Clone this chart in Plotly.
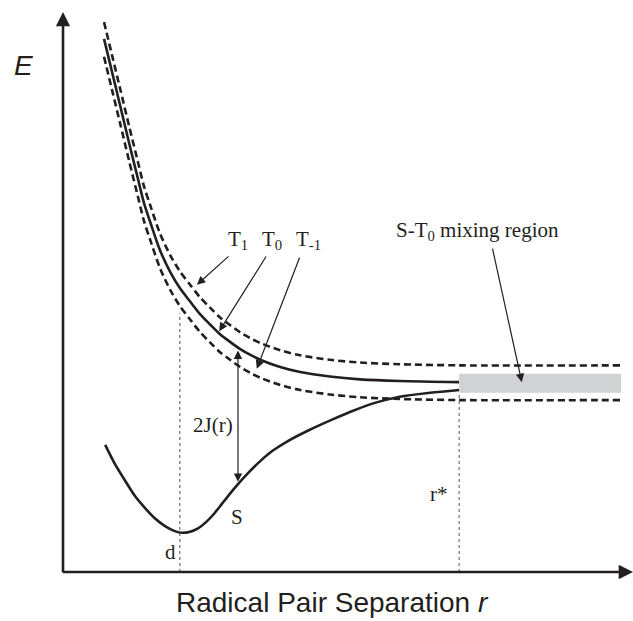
import plotly.graph_objects as go

# Energy levels of a radical pair versus separation r (arbitrary units)
t0_r = [0.72, 0.86, 1.00, 1.16, 1.32, 1.42, 1.53, 1.70, 1.88, 2.05, 2.23, 2.40,
        2.58, 2.75, 2.93, 3.11, 3.28, 3.46, 3.81, 4.16, 4.68, 5.21, 5.91, 6.95]
t0_e = [9.52, 8.93, 8.34, 7.66, 7.00, 6.59, 6.25, 5.75, 5.36, 5.07, 4.83, 4.61,
        4.42, 4.25, 4.11, 3.98, 3.88, 3.79, 3.66, 3.57, 3.49, 3.44, 3.41, 3.39]

t1_r = t0_r + [9.81]
t1_e = [9.82, 9.23, 8.64, 7.96, 7.30, 6.89, 6.55, 6.05, 5.66, 5.37, 5.13, 4.91,
        4.72, 4.55, 4.41, 4.28, 4.18, 4.09, 3.96, 3.87, 3.79, 3.74, 3.71, 3.69, 3.69]

tm1_r = t0_r + [9.81]
tm1_e = [9.20, 8.61, 8.02, 7.34, 6.68, 6.27, 5.93, 5.43, 5.04, 4.75, 4.51, 4.29,
         4.10, 3.93, 3.79, 3.66, 3.56, 3.47, 3.34, 3.25, 3.17, 3.12, 3.09, 3.07, 3.07]

s_r = [0.74, 0.91, 1.09, 1.26, 1.44, 1.61, 1.79, 1.96, 2.09, 2.23, 2.37, 2.51, 2.65, 2.79,
       2.93, 3.07, 3.25, 3.46, 3.67, 3.93, 4.33, 4.74, 5.09, 5.47, 5.91, 6.44, 6.95]
s_e = [2.27, 1.93, 1.63, 1.36, 1.14, 0.96, 0.82, 0.73, 0.70, 0.72, 0.78, 0.89, 1.04, 1.22,
       1.40, 1.57, 1.77, 1.98, 2.16, 2.33, 2.54, 2.73, 2.88, 3.02, 3.13, 3.20, 3.25]

# Characteristic separations and the S-T0 mixing band
r_d = 2.05
r_star = 6.95
mix_r = [6.95, 9.79]
mix_e = [3.20, 3.54]
two_j_r = 3.07
two_j_e = [3.98, 1.61]

INK = "#231f20"
SERIF = "Liberation Serif, Times New Roman, serif"
SANS = "Liberation Sans, Arial, sans-serif"

fig = go.Figure()

dash = "7px,4px"
curve = dict(color=INK, width=2.6, shape="spline", smoothing=0.8)
fig.add_trace(go.Scatter(x=t1_r, y=t1_e, mode="lines", line=dict(curve, dash=dash)))
fig.add_trace(go.Scatter(x=t0_r, y=t0_e, mode="lines", line=curve))
fig.add_trace(go.Scatter(x=tm1_r, y=tm1_e, mode="lines", line=dict(curve, dash=dash)))
fig.add_trace(go.Scatter(x=s_r, y=s_e, mode="lines", line=curve))

shapes = [
    dict(type="rect", xref="x", yref="y", x0=mix_r[0], x1=mix_r[1], y0=mix_e[0], y1=mix_e[1],
         fillcolor="#d1d2d4", line=dict(width=0), layer="above"),
    dict(type="line", xref="x", yref="y", x0=r_d, x1=r_d, y0=0, y1=4.62,
         line=dict(color="#555555", width=1, dash="dot")),
    dict(type="line", xref="x", yref="y", x0=r_star, x1=r_star, y0=0, y1=mix_e[0],
         line=dict(color="#555555", width=1, dash="dot")),
]

annotations = []


def arrow(x, y, ax, ay, head=2, width=1.2, size=1.4, side="end"):
    annotations.append(dict(x=x, y=y, ax=ax, ay=ay, xref="x", yref="y", axref="x", ayref="y",
                            text="", showarrow=True, arrowhead=head, startarrowhead=head,
                            arrowwidth=width, arrowsize=size, startarrowsize=size,
                            arrowside=side, arrowcolor=INK, standoff=0, startstandoff=0))


def label(x, y, text, size=21, font=SERIF, ref="x"):
    annotations.append(dict(x=x, y=y, xref=ref, yref=ref.replace("x", "y"), text=text,
                            showarrow=False, xanchor="center", yanchor="middle",
                            font=dict(family=font, size=size, color=INK)))


# Axes with arrow tips
arrow(10.0, 0.0, -0.03, 0.0, width=2.6, size=1.1)
arrow(0.0, 10.0, 0.0, -0.03, width=2.6, size=1.1)

# Pointer arrows to the triplet levels and the mixing region
arrow(2.35, 5.13, 2.93, 5.66)
arrow(2.74, 4.30, 3.58, 5.66)
arrow(3.40, 3.63, 4.16, 5.64)
arrow(8.05, 3.39, 7.53, 5.80)

# Exchange splitting 2J(r)
arrow(two_j_r, two_j_e[1], two_j_r, two_j_e[0], side="end+start")

label(3.07, 5.93, "T<sub>1</sub>")
label(3.66, 5.93, "T<sub>0</sub>")
label(4.30, 5.93, "T<sub>-1</sub>")
label(7.28, 6.09, "S-T<sub>0</sub> mixing region")
label(2.63, 2.63, "2J(r)")
label(3.05, 0.98, "S")
label(1.89, 0.36, "d")
label(6.60, 1.39, "r*")

# Axis titles, placed in paper units just outside the plotting area
label(-0.070, 0.904, "<i>E</i>", size=28, font=SANS, ref="paper")
label(0.472, -0.054, "Radical Pair Separation <i>r</i>", size=28, font=SANS, ref="paper")

fig.update_layout(
    width=633, height=621,
    margin=dict(l=63, r=0, t=12, b=49, pad=0),
    paper_bgcolor="white", plot_bgcolor="white",
    showlegend=False,
    xaxis=dict(range=[0, 10], visible=False, fixedrange=True),
    yaxis=dict(range=[0, 10], visible=False, fixedrange=True),
    shapes=shapes,
    annotations=annotations,
)

fig.write_html("out.html")
